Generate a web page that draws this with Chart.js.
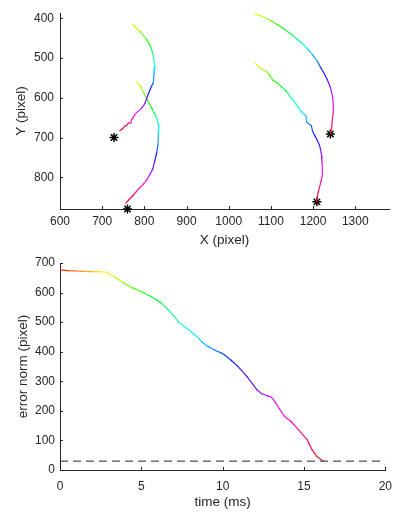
<!DOCTYPE html>
<html><head><meta charset="utf-8">
<script src="https://cdn.jsdelivr.net/npm/chart.js@4/dist/chart.umd.min.js"></script>
<style>
html,body{margin:0;padding:0;background:#fff;width:401px;height:516px;overflow:hidden}
#c1{position:absolute;left:0;top:0}
#c2{position:absolute;left:0;top:250px}
</style></head><body>
<canvas id="c1" width="401" height="250"></canvas>
<canvas id="c2" width="401" height="266"></canvas>
<script>
// ---- Top panel data: trajectories (X, Y in pixel) ----
const trajA_x = [773, 790, 805, 815, 821, 825, 823, 821, 817, 809, 801, 795, 789, 783, 777, 770, 768, 762, 758, 754, 748, 742];
const trajA_y = [416, 433, 452, 472, 492, 524, 540, 563, 571, 591, 615, 624, 631, 636, 643, 655, 663, 664, 670, 671, 678, 683];
const trajB_x = [782, 790, 798, 806, 812, 818, 823, 829, 833, 834, 833, 832, 829, 825, 820, 813, 806, 798, 789, 781, 773, 764, 756];
const trajB_y = [559, 570, 586, 603, 615, 627, 638, 650, 666, 683, 700, 720, 739, 758, 779, 793, 806, 817, 827, 836, 846, 856, 865];
const trajC_x = [1061, 1072, 1085, 1100, 1116, 1132, 1148, 1162, 1175, 1188, 1199, 1210, 1218, 1227, 1234, 1240, 1244, 1247, 1248, 1248, 1246, 1244, 1241];
const trajC_y = [389, 392, 398, 406, 416, 427, 440, 452, 464, 478, 492, 508, 524, 540, 555, 571, 587, 603, 619, 635, 650, 675, 690];
const trajD_x = [1061, 1068, 1077, 1089, 1097, 1105, 1116, 1126, 1136, 1146, 1156, 1164, 1172, 1183, 1185, 1196, 1199, 1204, 1210, 1215, 1218, 1220, 1221, 1222, 1222, 1219, 1215, 1212, 1210, 1208];
const trajD_y = [512, 518, 528, 533, 543, 556, 563, 573, 583, 597, 611, 623, 635, 645, 662, 670, 685, 695, 707, 719, 731, 746, 762, 778, 794, 810, 826, 838, 850, 862];
const target_x = [728, 760, 1241, 1209];
const target_y = [700, 880, 691, 862];
const topXTicks = [600, 700, 800, 900, 1000, 1100, 1200, 1300];
const topYTicks = [400, 500, 600, 700, 800];

// ---- Bottom panel data: error norm vs time ----
const time_ms = [0, 0.5, 1, 1.5, 2, 2.5, 2.8, 3.3, 3.9, 4.5, 5.0, 5.6, 6.2, 6.6, 7.0, 7.3, 7.9, 8.5, 8.7, 9.1, 9.5, 9.9, 10.1, 10.5, 10.9, 11.1, 11.5, 12.1, 12.4, 12.8, 13.0, 13.2, 13.5, 13.8, 14.2, 14.6, 15.2, 15.3, 15.5, 15.8, 16.2];
const errorNorm = [677, 674, 673, 672, 671, 670, 669, 655, 632, 615, 603, 587, 566, 545, 520, 500, 474, 447, 434, 418, 406, 396, 390, 372, 352, 340, 316, 272, 258, 250, 246, 232, 206, 182, 164, 140, 102, 90, 68, 45, 30];
const threshold = 30;
const botXTicks = [0, 5, 10, 15, 20];
const botYTicks = [0, 100, 200, 300, 400, 500, 600, 700];

const AX = '#262626';
const FAM = "'Liberation Sans', Arial, Helvetica, sans-serif";
const hsv = f => `hsl(${(f * 360).toFixed(1)},100%,54%)`;
const pts = (xs, ys) => xs.map((v, i) => ({x: v, y: ys[i]}));
const START_HUE_FRAC = 62 / 360;

function pathFracs(xs, ys) {
  const c = [0];
  for (let i = 1; i < xs.length; i++) c.push(c[i-1] + Math.hypot(xs[i]-xs[i-1], ys[i]-ys[i-1]));
  const L = c[c.length-1];
  return c.map(v => v / L);
}
function trajDataset(xs, ys) {
  const fr = pathFracs(xs, ys);
  return {
    data: pts(xs, ys), showLine: true, pointRadius: 0, borderWidth: 1.2,
    borderCapStyle: 'round', borderJoinStyle: 'round', tension: 0,
    borderColor: hsv(START_HUE_FRAC),
    segment: { borderColor: ctx => hsv(START_HUE_FRAC + (1 - START_HUE_FRAC) * (fr[ctx.p0DataIndex] + fr[ctx.p1DataIndex]) / 2) }
  };
}

const inwardTicks = {
  id: 'inwardTicks',
  afterDraw(chart) {
    const ctx = chart.ctx, a = chart.chartArea, sx = chart.scales.x, sy = chart.scales.y;
    ctx.save(); ctx.strokeStyle = AX; ctx.lineWidth = 1; ctx.beginPath();
    sx.ticks.forEach(t => { const p = Math.round(sx.getPixelForValue(t.value)) + 0.5; ctx.moveTo(p, a.bottom); ctx.lineTo(p, a.bottom - 3); });
    sy.ticks.forEach(t => { const p = Math.round(sy.getPixelForValue(t.value)) + 0.5; ctx.moveTo(a.left, p); ctx.lineTo(a.left + 3, p); });
    ctx.stroke(); ctx.restore();
  }
};

function axis(opts) {
  return {
    type: 'linear', min: opts.min, max: opts.max, reverse: !!opts.reverse,
    afterBuildTicks: s => { s.ticks = opts.ticks.map(v => ({value: v})); },
    afterFit: s => { if (opts.h !== undefined) s.height = opts.h; if (opts.w !== undefined) s.width = opts.w; },
    grid: {display: false, drawTicks: false, drawOnChartArea: false},
    border: {display: true, color: AX, width: 1},
    ticks: {color: AX, font: {family: FAM, size: 12}, padding: opts.pad, maxRotation: 0, autoSkip: false, callback: v => String(v)},
    title: {display: true, text: opts.title, color: AX, font: {family: FAM, size: 13.5}, padding: opts.tpad}
  };
}

const common = {
  responsive: false, animation: false, events: [],
  plugins: {legend: {display: false}, tooltip: {enabled: false}}
};

new Chart(document.getElementById('c1'), {
  type: 'scatter',
  data: { datasets: [
    trajDataset(trajA_x, trajA_y),
    trajDataset(trajB_x, trajB_y),
    trajDataset(trajC_x, trajC_y),
    trajDataset(trajD_x, trajD_y),
    { data: pts(target_x, target_y), pointStyle: 'star', pointRadius: 4.5, borderColor: '#000', backgroundColor: '#000', borderWidth: 1.5, showLine: false, clip: false }
  ]},
  options: Object.assign({}, common, {
    layout: {padding: {left: 0, right: 12, top: 3, bottom: 0}},
    scales: {
      x: axis({min: 600, max: 1380, ticks: topXTicks, h: 41, pad: 5, title: 'X (pixel)', tpad: {top: 0, bottom: 2}}),
      y: axis({min: 387, max: 880, reverse: true, ticks: topYTicks, w: 60, pad: 6, title: 'Y (pixel)', tpad: {top: 13, bottom: 0}})
    }
  }),
  plugins: [inwardTicks]
});

const tEnd = time_ms[time_ms.length - 1];
new Chart(document.getElementById('c2'), {
  type: 'scatter',
  data: { datasets: [
    { data: [{x: botXTicks[0], y: threshold}, {x: botXTicks[botXTicks.length-1], y: threshold}], showLine: true, pointRadius: 0, borderColor: AX, borderWidth: 1, borderDash: [8, 5] },
    { data: pts(time_ms, errorNorm), showLine: true, pointRadius: 0, borderWidth: 1.2, borderCapStyle: 'round', borderJoinStyle: 'round', tension: 0,
      borderColor: hsv(0),
      segment: { borderColor: ctx => hsv(((ctx.p0.parsed.x + ctx.p1.parsed.x) / 2) / tEnd) } }
  ]},
  options: Object.assign({}, common, {
    layout: {padding: {left: 0, right: 12, top: 13, bottom: 0}},
    scales: {
      x: axis({min: 0, max: 20, ticks: botXTicks, h: 46, pad: 9, title: 'time (ms)', tpad: {top: 0, bottom: 6}}),
      y: axis({min: 0, max: 700, ticks: botYTicks, w: 60, pad: 5, title: 'error norm (pixel)', tpad: {top: 15, bottom: 0}})
    }
  }),
  plugins: [inwardTicks]
});
</script>
</body></html>
